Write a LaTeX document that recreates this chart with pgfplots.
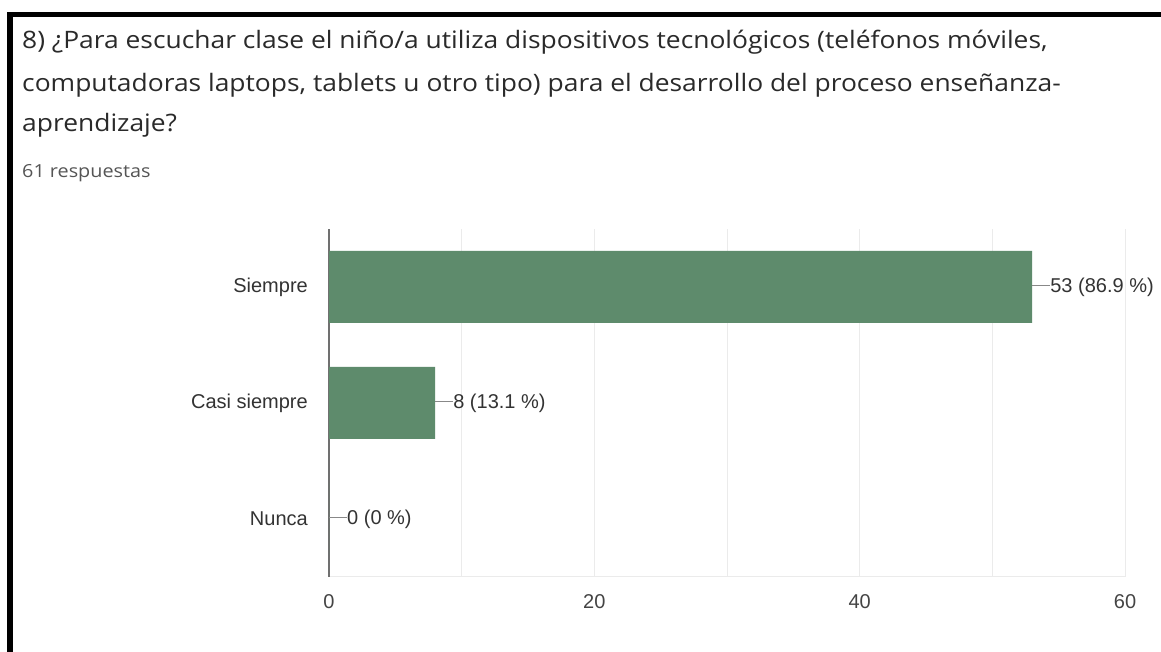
\documentclass[border=0pt]{standalone}
\usepackage{pgfplots}
\pgfplotsset{compat=1.18}
\usepackage{fontspec}
\setmainfont{Liberation Sans}
\newfontfamily\titlefont[FakeStretch=1.1]{Open Sans}
\definecolor{barc}{HTML}{5E8B6C}
\definecolor{titlec}{HTML}{2A2A2A}
\definecolor{subc}{HTML}{555555}
\definecolor{labc}{HTML}{333333}
\definecolor{tickc}{HTML}{444444}
\definecolor{gridc}{HTML}{EBEBEB}
\definecolor{axc}{HTML}{707070}
\definecolor{linec}{HTML}{888888}
\begin{document}
\begin{tikzpicture}[x=1pt,y=1pt]
\path[use as bounding box] (0,0) rectangle (1161,652);
\fill[white] (0,0) rectangle (1161,652);
\fill[black] (7,0) rectangle (13,640);
\fill[black] (7,635) rectangle (1161,640);
\begin{scope}[every node/.style={anchor=base west, inner sep=0pt, text=titlec, font=\titlefont\fontsize{24}{28}\selectfont}]
\node at (22,603) {8) ¿Para escuchar clase el niño/a utiliza dispositivos tecnológicos (teléfonos móviles,};
\node at (22,560) {computadoras laptops, tablets u otro tipo) para el desarrollo del proceso enseñanza-};
\node at (22,520) {aprendizaje?};
\end{scope}
\node[anchor=base west, inner sep=0pt, text=subc, font=\titlefont\fontsize{18}{21}\selectfont] at (22,474) {61 respuestas};
\begin{axis}[
  at={(329pt,75pt)}, anchor=south west,
  scale only axis, width=796pt, height=348pt,
  xmin=0, xmax=60, ymin=-0.5, ymax=2.5,
  xtick={0,20,40,60}, minor xtick={10,30,50},
  xmajorgrids, xminorgrids,
  major grid style={draw=gridc, line width=1pt},
  minor grid style={draw=gridc, line width=1pt},
  ytick={0,1,2}, yticklabels={Nunca,Casi siempre,Siempre},
  major tick length=0pt, minor tick length=0pt,
  axis x line*=bottom, axis y line*=left,
  x axis line style={draw=gridc, line width=1pt, -},
  y axis line style={draw=axc, line width=1.6pt, -},
  /pgf/number format/assume math mode=true,
  yticklabel style={font=\fontsize{20}{24}\selectfont, text=labc, inner sep=0pt, anchor=east, xshift=-21pt},
  xticklabel style={font=\fontsize{20}{24}\selectfont, text=tickc, inner sep=0pt, anchor=north, yshift=-17pt},
]
\addplot[xbar, fill=barc, draw=none, bar width=72pt,
  point meta=explicit symbolic,
  nodes near coords={\textcolor{linec}{\rule[6.5pt]{18pt}{1pt}}\pgfplotspointmeta},
  every node near coord/.style={anchor=west, inner sep=0pt, xshift=0pt, yshift=0pt, font=\fontsize{20}{24}\selectfont, text=labc}]
  coordinates {
    (53,2) [53 (86.9 \%)]
    (8,1) [8 (13.1 \%)]
    (0,0) [0 (0 \%)]
  };
\end{axis}
\end{tikzpicture}
\end{document}
